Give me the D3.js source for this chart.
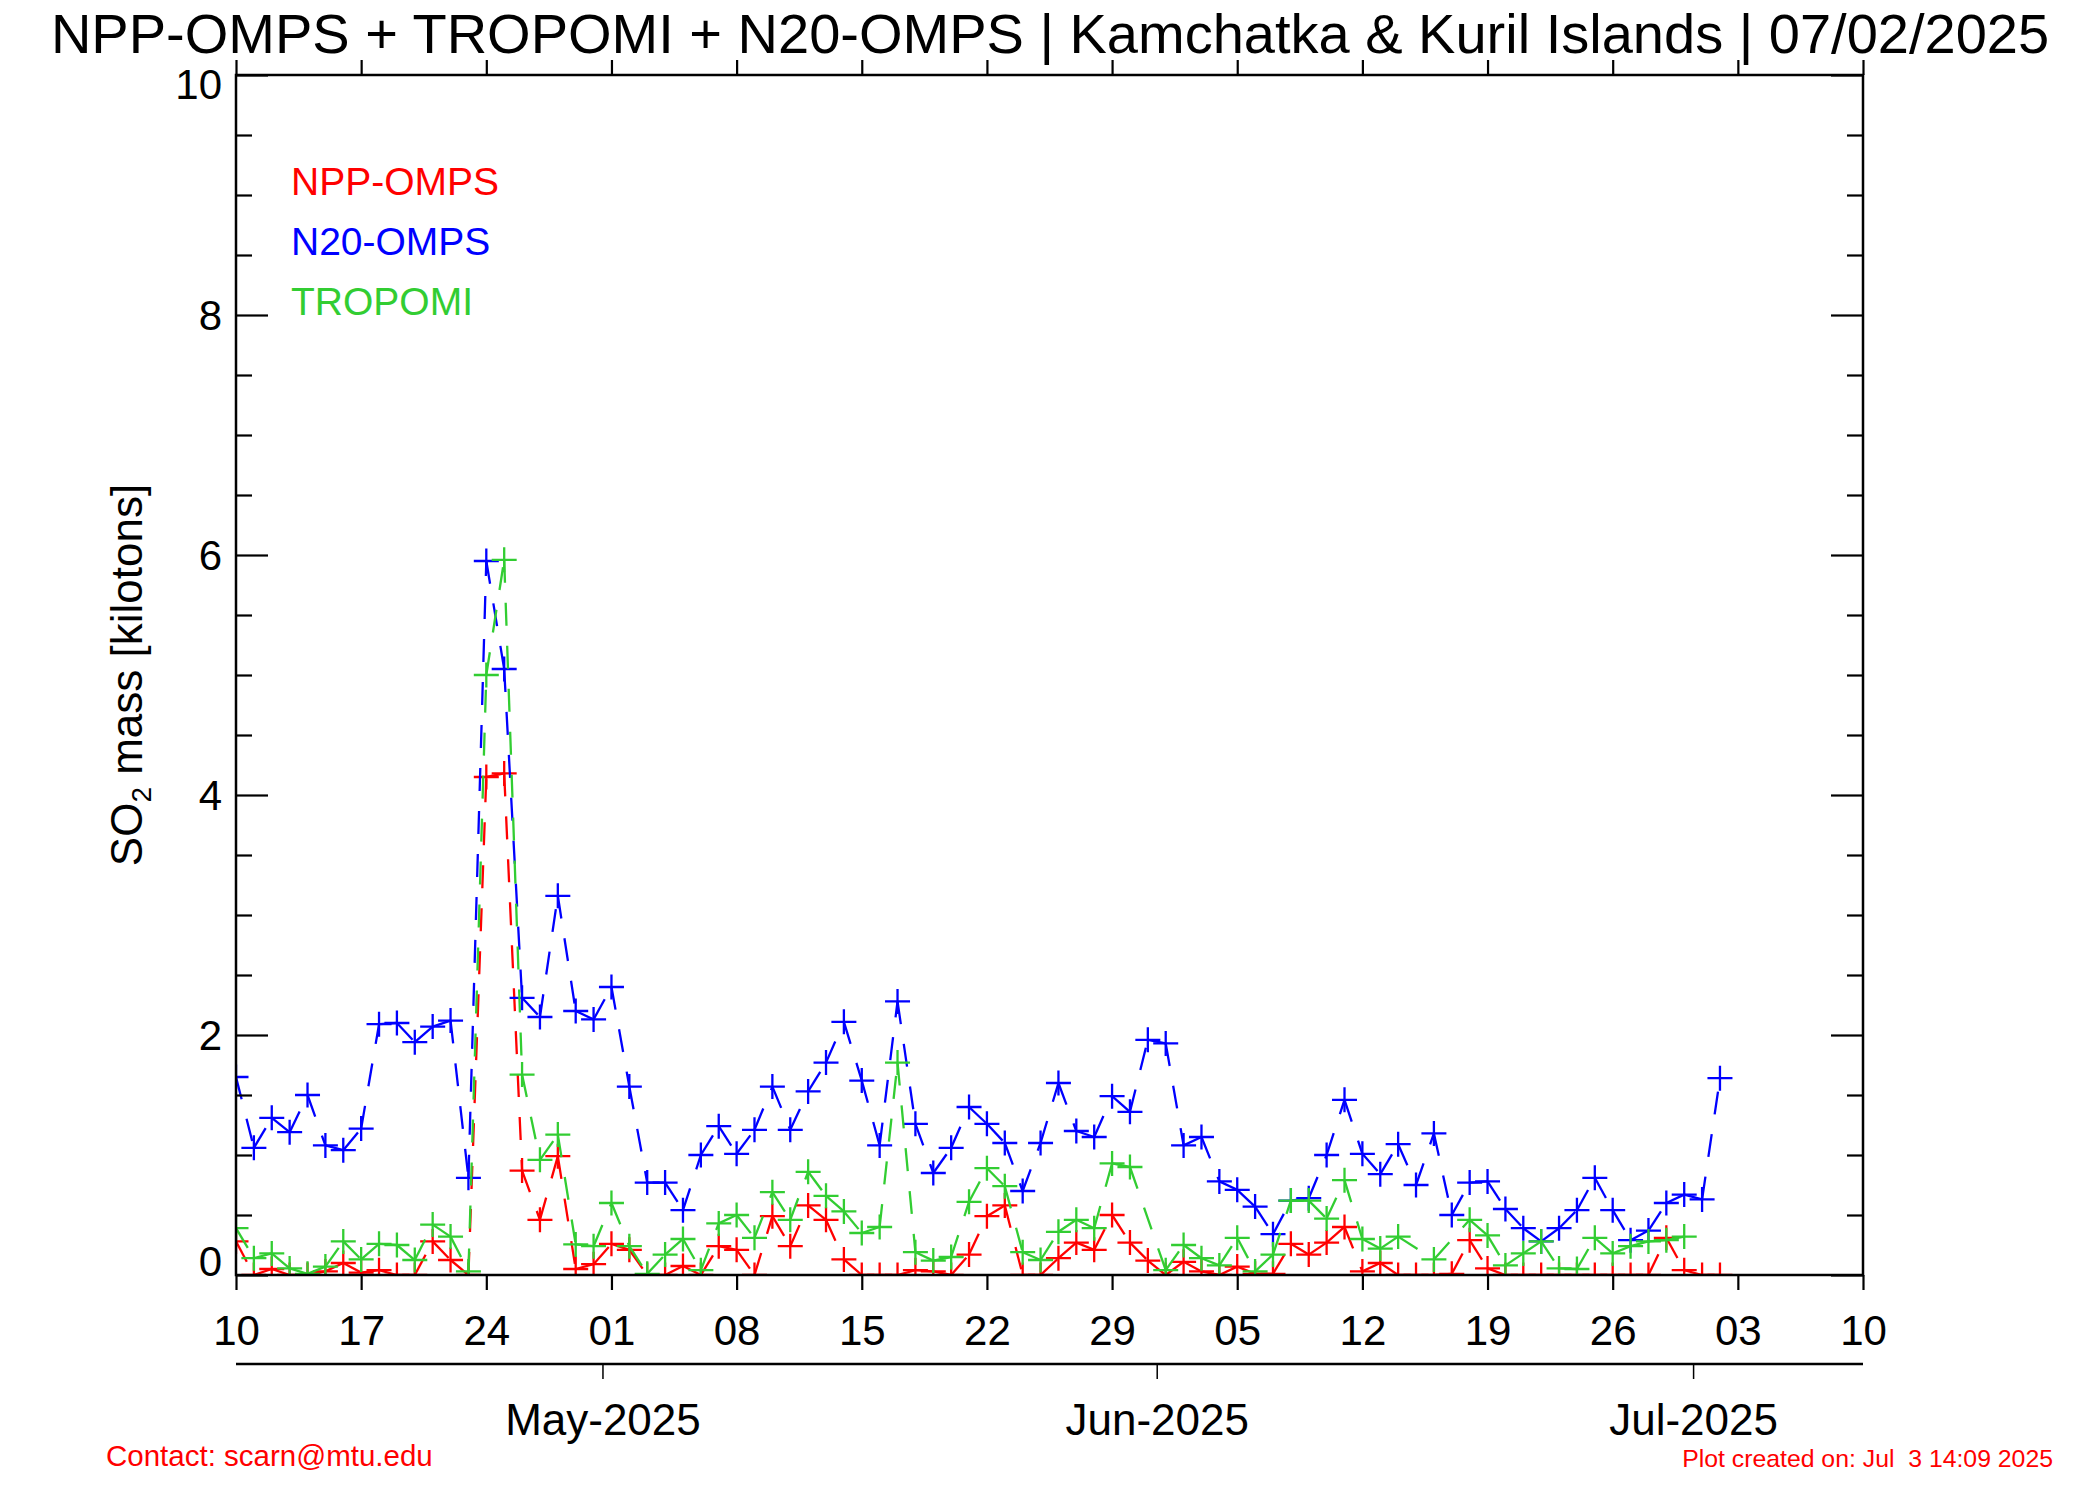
<!DOCTYPE html>
<html><head><meta charset="utf-8">
<script src="https://cdn.jsdelivr.net/npm/d3@7"></script>
<style>body{margin:0;background:#fff} svg{display:block}</style>
</head><body>
<script>
// ---------------- DATA ----------------
const startDate = "2025-04-10";   // first daily value; one value per day
const nppOmps = [0.28,0,0.05,0,0,0.03,0.10,0.02,0.04,0,0,0.28,0.125,0,4.15,4.18,0.87,0.46,0.99,0.05,
  0.09,0.26,0.21,0,0,0.075,0,0.24,0.21,0,0.49,0.24,0.58,0.46,0.13,0,0,0,0.04,0.03,
  0,0.17,0.49,0.58,0,0,0.14,0.27,0.21,0.50,0.27,0.12,0,0.11,0.03,0,0.07,0.01,0.01,0.26,
  0.17,0.27,0.40,0.03,0.10,0,0,0,0.01,0.29,0.055,0,0,0,0,0,0,0,0,0,
  0.31,0.04,0,0];
const n20Omps = [1.65,1.06,1.31,1.19,1.50,1.08,1.04,1.22,2.09,2.10,1.94,2.07,2.12,0.81,5.95,5.05,2.31,2.15,3.16,2.20,
  2.13,2.40,1.57,0.77,0.77,0.54,1.00,1.24,1.01,1.21,1.57,1.21,1.53,1.77,2.11,1.62,1.08,2.28,1.26,0.85,
  1.06,1.40,1.26,1.10,0.70,1.10,1.60,1.20,1.15,1.49,1.36,1.96,1.93,1.08,1.15,0.78,0.71,0.57,0.34,0.62,
  0.64,1.00,1.46,1.01,0.84,1.09,0.75,1.18,0.50,0.77,0.78,0.55,0.39,0.28,0.39,0.54,0.81,0.54,0.29,0.37,
  0.60,0.67,0.63,1.64];
const tropomi = [0.39,0.14,0.18,0.055,0.01,0.07,0.28,0.13,0.26,0.25,0.125,0.42,0.32,0.03,5.00,5.96,1.67,0.96,1.17,0.255,
  0.24,0.60,0.24,0.01,0.17,0.30,0.04,0.43,0.50,0.31,0.69,0.46,0.86,0.66,0.53,0.35,0.40,1.77,0.19,0.12,
  0.15,0.61,0.89,0.74,0.19,0.125,0.36,0.46,0.39,0.93,0.90,null,0.04,0.25,0.14,0.08,0.31,0.03,0.17,0.62,
  0.62,0.47,0.79,0.30,0.22,0.32,null,0.13,null,0.46,0.33,0.08,0.18,0.28,0.055,0.05,0.31,0.18,0.24,0.28,
  0.29,0.32,null,null];
const seriesNames = ["NPP-OMPS","N20-OMPS","TROPOMI"];
const xDomain = ["2025-04-10","2025-07-10"];
const xTickDates = ["2025-04-10","2025-04-17","2025-04-24","2025-05-01","2025-05-08","2025-05-15","2025-05-22",
  "2025-05-29","2025-06-05","2025-06-12","2025-06-19","2025-06-26","2025-07-03","2025-07-10"];
const xTickLabels = ["10","17","24","01","08","15","22","29","05","12","19","26","03","10"];
const monthTickDates = ["2025-05-01","2025-06-01","2025-07-01"];
const monthLabels = ["May-2025","Jun-2025","Jul-2025"];
const yDomain = [0,10];
const yMajorTicks = [0,2,4,6,8,10];
const yMinorTicks = [0.5,1,1.5,2.5,3,3.5,4.5,5,5.5,6.5,7,7.5,8.5,9,9.5];
const titleText = "NPP-OMPS + TROPOMI + N20-OMPS | Kamchatka & Kuril Islands | 07/02/2025";
const contactText = "Contact: scarn@mtu.edu";
const createdText = "Plot created on: Jul  3 14:09 2025";

// ---------------- STYLE / LAYOUT ----------------
const W = 2100, H = 1500;
const L = 236, R = 1863, T = 75, B = 1275;
const colors = {"NPP-OMPS":"#ff0000","N20-OMPS":"#0000ff","TROPOMI":"#32cd32"};
const FONT = "'Liberation Sans', Arial, Helvetica, sans-serif";

const parse = d3.utcParse("%Y-%m-%d");
const start = parse(startDate);
const x = d3.scaleUtc().domain(xDomain.map(parse)).range([L, R]);
const y = d3.scaleLinear().domain(yDomain).range([B, T]);

const svg = d3.select("body").append("svg").attr("width", W).attr("height", H)
  .style("font-family", FONT);
svg.append("rect").attr("width", W).attr("height", H).attr("fill", "#fff");

// Title
svg.append("text").attr("x", 1050).attr("y", 53).attr("text-anchor","middle")
  .attr("font-size", 56).attr("fill","#000").text(titleText);

// clip
svg.append("clipPath").attr("id","plotclip").append("rect")
  .attr("x", L).attr("y", T).attr("width", R-L).attr("height", B-T);

// series
const seriesData = {"NPP-OMPS": nppOmps, "N20-OMPS": n20Omps, "TROPOMI": tropomi};
const gData = svg.append("g").attr("clip-path","url(#plotclip)");
seriesNames.forEach(name => {
  const pts = seriesData[name].map((v,i) => ({date: d3.utcDay.offset(start, i), v}))
    .filter(p => p.v !== null);
  const g = gData.append("g");
  const segs = d3.pairs(pts);
  g.selectAll("line.seg").data(segs).join("line").attr("class","seg")
    .attr("x1", d => x(d[0].date)).attr("y1", d => y(d[0].v))
    .attr("x2", d => x(d[1].date)).attr("y2", d => y(d[1].v))
    .attr("stroke", colors[name]).attr("stroke-width", 2.3)
    .attr("stroke-dasharray", "23,20").attr("fill","none");
  g.selectAll("path.mk").data(pts).join("path").attr("class","mk")
    .attr("transform", d => `translate(${x(d.date)},${y(d.v)})`)
    .attr("d", "M-12.5,0H12.5M0,-12.5V12.5")
    .attr("stroke", colors[name]).attr("stroke-width", 2.3).attr("fill","none");
});

// frame
svg.append("rect").attr("x", L).attr("y", T).attr("width", R-L).attr("height", B-T)
  .attr("fill","none").attr("stroke","#000").attr("stroke-width", 2.5);

function styleAxis(g){
  g.select(".domain").remove();
  g.selectAll(".tick line").attr("stroke","#000").attr("stroke-width", 2.2);
  g.selectAll(".tick text").attr("fill","#000").attr("font-family", FONT);
}
const xTicks = xTickDates.map(parse);
// bottom x axis with day labels
svg.append("g").attr("transform", `translate(0,${B})`)
  .call(d3.axisBottom(x).tickValues(xTicks).tickSize(15).tickPadding(25)
    .tickFormat((d,i) => xTickLabels[i]))
  .call(styleAxis).call(g => g.selectAll(".tick text").attr("font-size", 42));
// top x axis ticks
svg.append("g").attr("transform", `translate(0,${T})`)
  .call(d3.axisTop(x).tickValues(xTicks).tickSize(15).tickFormat(""))
  .call(styleAxis);
// left y axis
svg.append("g").attr("transform", `translate(${L},0)`)
  .call(d3.axisLeft(y).tickValues(yMajorTicks).tickSize(-32).tickPadding(14)
    .tickFormat(d3.format("d")))
  .call(styleAxis)
  .call(g => g.selectAll(".tick text").attr("font-size", 42)
    .attr("dy", d => d === 10 ? "0.55em" : (d === 0 ? "0.0em" : "0.35em")));
svg.append("g").attr("transform", `translate(${L},0)`)
  .call(d3.axisLeft(y).tickValues(yMinorTicks).tickSize(-16).tickFormat(""))
  .call(styleAxis);
// right y axis
svg.append("g").attr("transform", `translate(${R},0)`)
  .call(d3.axisRight(y).tickValues(yMajorTicks).tickSize(-32).tickFormat(""))
  .call(styleAxis);
svg.append("g").attr("transform", `translate(${R},0)`)
  .call(d3.axisRight(y).tickValues(yMinorTicks).tickSize(-16).tickFormat(""))
  .call(styleAxis);

// secondary month axis
const monthY = 1364;
const monthShift = -8.5;
svg.append("line").attr("x1", L).attr("x2", R).attr("y1", monthY).attr("y2", monthY)
  .attr("stroke","#000").attr("stroke-width", 2.5);
const mt = monthTickDates.map(parse);
svg.selectAll("line.mtick").data(mt).join("line").attr("class","mtick")
  .attr("x1", d => x(d) + monthShift).attr("x2", d => x(d) + monthShift)
  .attr("y1", monthY).attr("y2", monthY + 15).attr("stroke","#000").attr("stroke-width", 1.5);
svg.selectAll("text.mlab").data(mt).join("text").attr("class","mlab")
  .attr("x", d => x(d) + monthShift).attr("y", 1435).attr("text-anchor","middle")
  .attr("font-size", 44).attr("fill","#000").text((d,i) => monthLabels[i]);

// y-axis title
const yt = svg.append("text").attr("transform", "translate(142,675) rotate(-90)")
  .attr("text-anchor","middle").attr("font-size", 44).attr("fill","#000");
yt.append("tspan").text("SO");
yt.append("tspan").attr("font-size", 28).attr("dy", 9).text("2");
yt.append("tspan").attr("dy", -9).text(" mass [kilotons]");

// legend
seriesNames.forEach((name, i) => {
  svg.append("text").attr("x", 291).attr("y", 195 + i*60).attr("font-size", 39)
    .attr("fill", colors[name]).text(name);
});

// footer
svg.append("text").attr("x", 106).attr("y", 1466).attr("font-size", 29.5)
  .attr("fill","#ff0000").text(contactText);
svg.append("text").attr("x", 2053).attr("y", 1467).attr("text-anchor","end").attr("font-size", 24.8)
  .attr("fill","#ff0000").style("white-space","pre").attr("xml:space","preserve").text(createdText);
</script>
</body></html>
